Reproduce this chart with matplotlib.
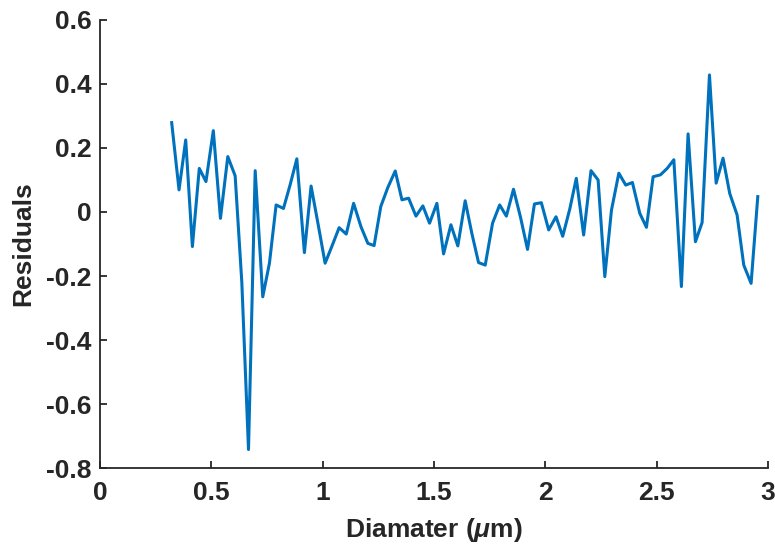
import matplotlib
matplotlib.use("Agg")
import matplotlib.pyplot as plt

# diameter (um) and fit residuals
diameter = [
    0.322, 0.355, 0.385, 0.415, 0.446, 0.476, 0.509, 0.541, 0.574, 0.607,
    0.637, 0.667, 0.697, 0.731, 0.761, 0.791, 0.824, 0.854, 0.884, 0.918,
    0.948, 0.980, 1.011, 1.041, 1.074, 1.106, 1.139, 1.172, 1.203, 1.231,
    1.261, 1.293, 1.326, 1.356, 1.386, 1.419, 1.450, 1.480, 1.513, 1.543,
    1.576, 1.607, 1.640, 1.670, 1.700, 1.730, 1.763, 1.795, 1.825, 1.857,
    1.888, 1.920, 1.951, 1.982, 2.015, 2.048, 2.078, 2.110, 2.139, 2.172,
    2.205, 2.237, 2.267, 2.297, 2.330, 2.361, 2.391, 2.424, 2.454, 2.484,
    2.517, 2.547, 2.577, 2.611, 2.641, 2.674, 2.704, 2.737, 2.767, 2.798,
    2.828, 2.861, 2.891, 2.924, 2.954,
]
residuals = [
    0.279, 0.069, 0.225, -0.108, 0.136, 0.095, 0.254, -0.020, 0.173, 0.113,
    -0.220, -0.742, 0.129, -0.265, -0.160, 0.022, 0.011, 0.085, 0.166, -0.127,
    0.081, -0.040, -0.160, -0.108, -0.049, -0.069, 0.027, -0.046, -0.098, -0.105,
    0.017, 0.077, 0.128, 0.038, 0.043, -0.013, 0.019, -0.035, 0.027, -0.131,
    -0.040, -0.106, 0.035, -0.067, -0.158, -0.166, -0.035, 0.022, -0.013, 0.071,
    -0.015, -0.117, 0.025, 0.029, -0.056, -0.015, -0.076, 0.010, 0.105, -0.072,
    0.129, 0.100, -0.202, 0.006, 0.121, 0.084, 0.092, -0.004, -0.048, 0.110,
    0.116, 0.136, 0.163, -0.233, 0.244, -0.093, -0.033, 0.428, 0.090, 0.168,
    0.058, -0.009, -0.166, -0.223, 0.048,
]
xticks = [0, 0.5, 1, 1.5, 2, 2.5, 3]
yticks = [-0.8, -0.6, -0.4, -0.2, 0, 0.2, 0.4, 0.6]

plt.rcParams['font.family'] = ['Liberation Sans', 'DejaVu Sans']
plt.rcParams['font.weight'] = 'bold'
plt.rcParams['mathtext.fontset'] = 'custom'
plt.rcParams['mathtext.it'] = 'Liberation Sans:italic:bold'
plt.rcParams['mathtext.rm'] = 'Liberation Sans:bold'

fig = plt.figure(figsize=(7.75, 5.52), dpi=100)
ax = fig.add_axes([0.129, 0.152, 0.862, 0.812])

ax.plot(diameter, residuals, color='#0072BD', linewidth=2.2)

ax.set_xlim(0, 3)
ax.set_ylim(-0.8, 0.6)
ax.set_xticks(xticks)
ax.set_xticklabels(['0', '0.5', '1', '1.5', '2', '2.5', '3'])
ax.set_yticks(yticks)
ax.set_yticklabels(['-0.8', '-0.6', '-0.4', '-0.2', '0', '0.2', '0.4', '0.6'])

for side in ('top', 'right'):
    ax.spines[side].set_visible(False)
for side in ('left', 'bottom'):
    ax.spines[side].set_color('#262626')
    ax.spines[side].set_linewidth(1.3)

ax.tick_params(direction='in', length=5, width=1.3, color='#262626',
               labelsize=19, labelcolor='#262626')
ax.tick_params(axis='x', pad=9)
ax.tick_params(axis='y', pad=6)

ax.set_xlabel(r'Diamater ($\mu$m)', fontsize=19, fontweight='bold', color='#262626', labelpad=8)
ax.set_ylabel('Residuals', fontsize=19, fontweight='bold', color='#262626', labelpad=8)

fig.savefig('out.png', dpi=100)
